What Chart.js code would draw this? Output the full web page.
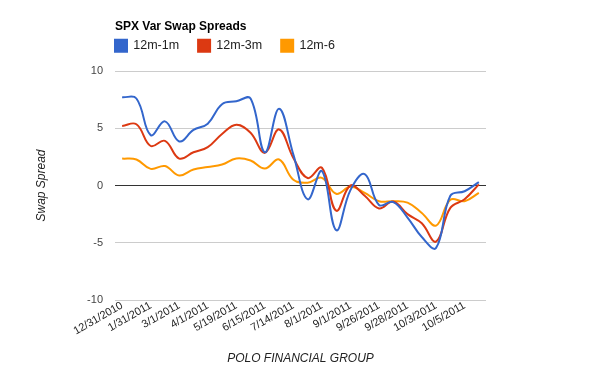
<!DOCTYPE html>
<html lang="en">
<head>
<meta charset="UTF-8">
<title>SPX Var Swap Spreads</title>
<script src="https://cdn.jsdelivr.net/npm/chart.js"></script>
<style>
  body { margin: 0; background: #fff; }
</style>
</head>
<body>
<canvas id="swapChart" width="600" height="371"></canvas>
<script>
  // dates printed on the x axis, only every other observation gets a label
  const tickDates = ['12/31/2010', '1/31/2011', '3/1/2011', '4/1/2011', '5/19/2011', '6/15/2011',
    '7/14/2011', '8/1/2011', '9/1/2011', '9/26/2011', '9/28/2011', '10/3/2011', '10/5/2011'];

  const spread1m = [7.7, 7.6, 4.4, 5.6, 3.85, 4.85, 5.4, 7.1, 7.35, 7.6, 2.9, 6.7, 2.7,
    -1.2, 1.25, -3.9, -0.4, 1.0, -1.7, -1.45, -2.8, -4.5, -5.45, -0.9, -0.5, 0.3];
  const spread3m = [5.2, 5.35, 3.45, 3.9, 2.35, 2.9, 3.35, 4.5, 5.3, 4.6, 2.85, 4.9, 2.4,
    0.65, 1.55, -2.2, 0.0, -0.9, -2.0, -1.4, -2.5, -3.3, -4.9, -1.95, -1.2, 0.1];
  const spread6m = [2.35, 2.27, 1.45, 1.7, 0.87, 1.4, 1.62, 1.83, 2.36, 2.18, 1.48, 2.27, 0.5,
    0.25, 0.67, -0.72, -0.12, -0.64, -1.37, -1.37, -1.5, -2.4, -3.5, -1.25, -1.37, -0.64];

  const categories = spread1m.map((v, i) => i % 2 === 0 ? tickDates[i / 2] : '');

  Chart.defaults.font.family = "Arial, 'Liberation Sans', sans-serif";

  // the legend sits flush with the plot's left edge, chart.js indents it by the label padding
  const legendNudge = {
    id: 'legendNudge',
    afterLayout(chart) {
      const lg = chart.legend;
      const pad = lg.options.labels.padding;
      lg.left -= pad;
      lg.right -= pad;
      lg.top -= 13;
      lg.bottom -= 13;
    }
  };

  const line = (label, data, color) => ({
    label: label,
    data: data,
    borderColor: color,
    backgroundColor: color,
    borderWidth: 2,
    pointRadius: 0,
    tension: 0.4,
    fill: false
  });

  new Chart(document.getElementById('swapChart'), {
    type: 'line',
    data: {
      labels: categories,
      datasets: [
        line('12m-1m', spread1m, '#3366cc'),
        line('12m-3m', spread3m, '#dc3912'),
        line('12m-6', spread6m, '#ff9900')
      ]
    },
    plugins: [legendNudge],
    options: {
      responsive: false,
      animation: false,
      layout: { padding: { right: 114 } },
      plugins: {
        title: {
          display: true,
          text: 'SPX Var Swap Spreads',
          align: 'start',
          fullSize: false,
          color: '#000',
          font: { size: 12, weight: 'bold' },
          padding: { top: 19, bottom: 0 }
        },
        legend: {
          position: 'top',
          align: 'start',
          fullSize: false,
          maxHeight: 37.6,
          labels: {
            boxWidth: 12,
            boxHeight: 12,
            padding: 19,
            color: '#222',
            font: { size: 12.5 }
          }
        },
        tooltip: { enabled: false }
      },
      scales: {
        x: {
          offset: true,
          afterFit: s => { s.height = 71; },
          grid: { display: false },
          border: { display: false },
          ticks: {
            autoSkip: false,
            minRotation: 30,
            maxRotation: 30,
            color: '#222',
            font: { size: 11 },
            padding: -9
          },
          title: {
            display: true,
            text: 'POLO FINANCIAL GROUP',
            color: '#222',
            font: { size: 12, style: 'italic' },
            padding: { top: 0, bottom: 5 }
          }
        },
        y: {
          min: -10,
          max: 10,
          afterFit: s => { s.width = 115; },
          border: { display: false },
          grid: {
            drawTicks: false,
            color: ctx => ctx.tick && ctx.tick.value === 0 ? '#333' : '#ccc'
          },
          ticks: {
            stepSize: 5,
            color: '#444',
            font: { size: 11 },
            padding: 12
          },
          title: {
            display: true,
            text: 'Swap Spread',
            color: '#222',
            font: { size: 12, style: 'italic' },
            padding: { top: 34, bottom: 0 }
          }
        }
      }
    }
  });
</script>
</body>
</html>
